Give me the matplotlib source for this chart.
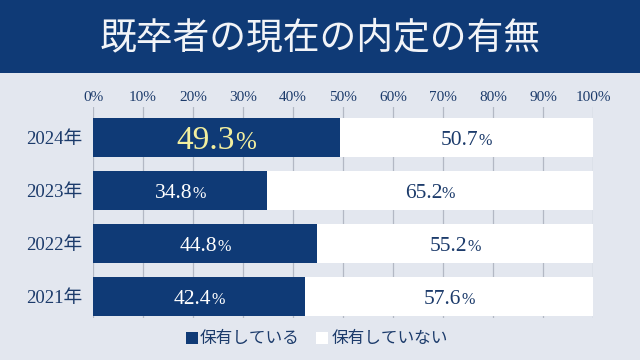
import matplotlib
matplotlib.use("Agg")
import matplotlib.pyplot as plt
from matplotlib.patches import Rectangle
from matplotlib.transforms import offset_copy

years = ["2024年", "2023年", "2022年", "2021年"]
have = [49.3, 34.8, 44.8, 42.4]
not_have = [50.7, 65.2, 55.2, 57.6]
xticks = [0, 10, 20, 30, 40, 50, 60, 70, 80, 90, 100]
xticklabels = [f"{t}%" for t in xticks]
title = "既卒者の現在の内定の有無"
legend_labels = ["保有している", "保有していない"]

NAVY = "#0f3a76"
BG = "#e3e7ef"
TEXT = "#1c3b6b"
SERIF = ["Liberation Serif", "DejaVu Serif"]
JP = ["Noto Sans CJK JP", "DejaVu Sans"]

fig = plt.figure(figsize=(6.4, 3.6), dpi=100)
fig.patch.set_facecolor(BG)

# title banner
fig.patches.append(Rectangle((0, 1 - 73 / 360), 1, 73 / 360, transform=fig.transFigure,
                             facecolor=NAVY, edgecolor="none", zorder=0))
fig.text(0.5, 1 - 38 / 360, title, ha="center", va="center", color="#f2f4f8",
         fontsize=26.5, family=JP)

ax = fig.add_axes([93 / 640, 42 / 360, 500 / 640, (318 - 107) / 360])
ax.set_facecolor("none")
ypos = [3, 2, 1, 0]
h = 0.74
ax.barh(ypos, have, height=h, color=NAVY, zorder=2)
ax.barh(ypos, not_have, left=have, height=h, color="white", zorder=2)
ax.set_xlim(0, 100)
ax.set_ylim(-0.4, 3.575)
for s in ax.spines.values():
    s.set_visible(False)
ax.set_xticks(xticks)
ax.set_xticklabels(xticklabels, family=SERIF, fontsize=11, color=TEXT)
ax.xaxis.tick_top()
ax.tick_params(axis="x", length=0, pad=2)
ax.grid(axis="x", color="#b3b8c4", linewidth=0.9, zorder=0)
ax.set_axisbelow(True)
ax.set_yticks(ypos)
ax.set_yticklabels(years, family=["Liberation Serif", "Noto Sans CJK JP"], fontsize=13.5, color=TEXT)
ax.tick_params(axis="y", length=0, pad=8)

pairs = []
for i, (y, a, b) in enumerate(zip(ypos, have, not_have)):
    if i == 0:
        col, fs = "#f3ef9e", 24
    else:
        col, fs = "white", 15.5
    t1 = ax.text(a / 2, y, f"{a}", ha="left", va="baseline", color=col,
                 fontsize=fs, family=SERIF, zorder=3)
    t2 = ax.text(a / 2, y, "%", ha="left", va="baseline", color=col,
                 fontsize=fs * 0.75, family=SERIF, zorder=3)
    pairs.append((t1, t2, fs))
    t3 = ax.text(a + b / 2, y, f"{b}", ha="left", va="baseline", color=TEXT,
                 fontsize=15.5, family=SERIF, zorder=3)
    t4 = ax.text(a + b / 2, y, "%", ha="left", va="baseline", color=TEXT,
                 fontsize=15.5 * 0.75, family=SERIF, zorder=3)
    pairs.append((t3, t4, 15.5))

fig.canvas.draw()
r = fig.canvas.get_renderer()
for t1, t2, fs in pairs:
    e1 = t1.get_window_extent(r)
    e2 = t2.get_window_extent(r)
    total = e1.width + e2.width
    dy = -0.66 * fs * 100 / 72 / 2
    t1.set_transform(offset_copy(ax.transData, fig=fig, x=-total / 2, y=dy, units="dots"))
    t2.set_transform(offset_copy(ax.transData, fig=fig, x=-total / 2 + e1.width,
                                 y=dy, units="dots"))

# legend
ly = 1 - 338 / 360
fig.patches.append(Rectangle((186 / 640, ly - 6 / 360), 12 / 640, 12 / 360,
                             transform=fig.transFigure, facecolor=NAVY, edgecolor="none"))
fig.text(200 / 640, ly, legend_labels[0], ha="left", va="center", color=TEXT,
         fontsize=12, family=JP)
fig.patches.append(Rectangle((316 / 640, ly - 6 / 360), 12 / 640, 12 / 360,
                             transform=fig.transFigure, facecolor="white", edgecolor="none"))
fig.text(332 / 640, ly, legend_labels[1], ha="left", va="center", color=TEXT,
         fontsize=12, family=JP)

fig.savefig("out.png", dpi=100, facecolor=BG)
